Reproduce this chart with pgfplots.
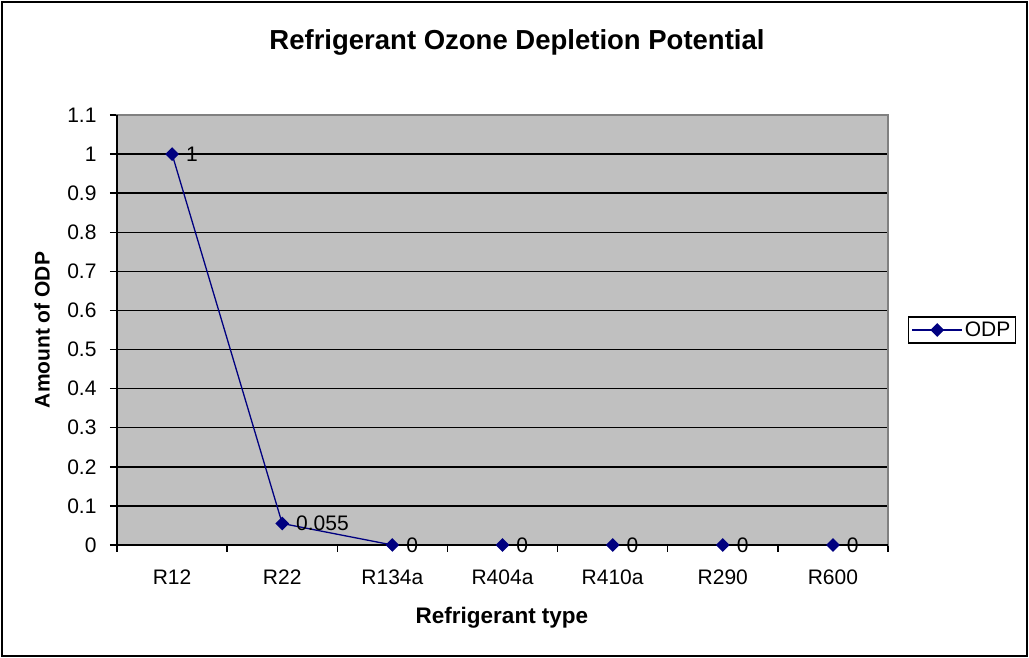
\documentclass[border=0pt]{standalone}
\usepackage{pgfplots}
\pgfplotsset{compat=1.18}
\usepackage{fontspec}
\setmainfont{Liberation Sans}
\definecolor{navy}{RGB}{0,0,128}
\definecolor{plotgray}{RGB}{192,192,192}
\definecolor{bordergray}{RGB}{128,128,128}
\begin{document}
\begin{tikzpicture}[x=1pt,y=1pt]
\path[use as bounding box] (0,0) rectangle (1029,658);
\draw[line width=2pt] (2,2) rectangle (1027,656);
\node[font=\fontsize{27.5}{32}\selectfont\bfseries] at (517,616) {Refrigerant Ozone Depletion Potential};
\node[font=\fontsize{21}{25}\selectfont\bfseries, rotate=90] at (42,328) {Amount of ODP};
\node[font=\fontsize{22.5}{27}\selectfont\bfseries] at (502,40) {Refrigerant type};
\begin{axis}[
  at={(117pt,113pt)}, anchor=south west,
  scale only axis, width=771pt, height=430pt,
  xmin=-0.5, xmax=6.5, ymin=0, ymax=1.1,
  axis background/.style={fill=plotgray},
  axis line style={draw=bordergray, line width=1.5pt},
  xtick={-0.5,0.5,1.5,2.5,3.5,4.5,5.5,6.5},
  xticklabels={R12,R22,R134a,R404a,R410a,R290,R600},
  x tick label as interval,
  ytick={0,0.1,0.2,0.3,0.4,0.5,0.6,0.7,0.8,0.9,1,1.1},
  yticklabels={0,0.1,0.2,0.3,0.4,0.5,0.6,0.7,0.8,0.9,1,1.1},
  tick label style={font=\fontsize{21}{25}\selectfont},
  xticklabel style={yshift=-14pt},
  yticklabel style={xshift=-10pt},
  xtick pos=bottom, ytick pos=left,
  tick align=outside,
  major tick length=7pt,
  tick style={black, line width=1.5pt},
  ymajorgrids, grid style={black, line width=1.5pt},
  legend style={at={(1.096,0.5)}, anchor=center, draw=black, line width=1.2pt,
    font=\fontsize{21}{25}\selectfont, inner sep=3pt},
  legend image code/.code={\draw[mark repeat=2,mark phase=2] plot coordinates {(0pt,0pt) (25pt,0pt) (50pt,0pt)};},
  legend cell align=left,
  clip=false,
]
\addplot[navy, line width=1.3pt, mark=square*, mark size=4.2pt,
  mark options={rotate=45, fill=navy, draw=navy, solid},
  point meta=explicit symbolic,
  nodes near coords,
  nodes near coords style={anchor=west, xshift=10pt, font=\fontsize{21}{25}\selectfont, text=black},
] coordinates {
  (0,1)[1] (1,0.055)[0.055] (2,0)[0] (3,0)[0] (4,0)[0] (5,0)[0] (6,0)[0]
};
\addlegendentry{ODP}
\draw[black, line width=1.5pt] (rel axis cs:0,1) -- (rel axis cs:0,0) -- (rel axis cs:1,0);
\end{axis}
\end{tikzpicture}
\end{document}
